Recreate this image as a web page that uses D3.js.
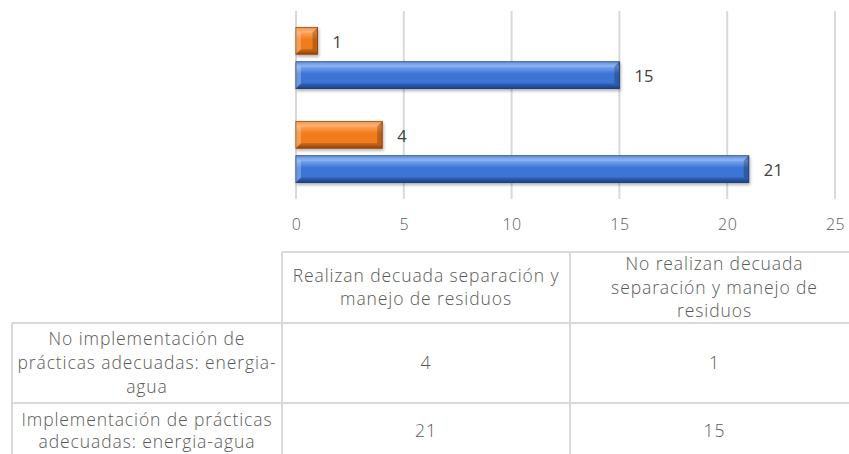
<!DOCTYPE html>
<html>
<head>
<meta charset="utf-8">
<script src="https://cdn.jsdelivr.net/npm/d3@7"></script>
<style>
  body { margin: 0; background: #fff; }
  text { font-family: "Open Sans", sans-serif; }
</style>
</head>
<body>
<svg id="chart" width="849" height="454"></svg>
<script>
// data
const categories = ["Realizan decuada separación y manejo de residuos",
                    "No realizan decuada separación y manejo de residuos"];
const categoryLines = [["Realizan decuada separación y", "manejo de residuos"],
                       ["No realizan decuada", "separación y manejo de", "residuos"]];
const seriesNames = ["No implementación de prácticas adecuadas: energia-agua",
                     "Implementación de prácticas adecuadas: energia-agua"];
const seriesLines = [["No implementación de", "prácticas adecuadas: energia-", "agua"],
                     ["Implementación de prácticas", "adecuadas: energia-agua"]];
const noImplementacion = [4, 1];
const implementacion = [21, 15];
const xTicks = [0, 5, 10, 15, 20, 25];

const palettes = [
  {top: "#fda35a", mid: "#f07b1c", bot: "#b85510", stroke: "#a84c0c"},
  {top: "#78a6ee", mid: "#3d74d6", bot: "#23509f", stroke: "#21478c"}
];

const svg = d3.select("#chart");

const defs = svg.append("defs");
defs.append("filter").attr("id", "shadow")
    .attr("x", "-10%").attr("y", "-30%").attr("width", "130%").attr("height", "180%")
  .append("feDropShadow")
    .attr("dx", 1).attr("dy", 2).attr("stdDeviation", 1.5)
    .attr("flood-color", "#000").attr("flood-opacity", 0.3);

palettes.forEach((p, i) => {
  const grad = defs.append("linearGradient").attr("id", "grad" + i)
    .attr("x1", 0).attr("y1", 0).attr("x2", 0).attr("y2", 1);
  grad.append("stop").attr("offset", "0%").attr("stop-color", p.mid);
  grad.append("stop").attr("offset", "18%").attr("stop-color", p.top);
  grad.append("stop").attr("offset", "45%").attr("stop-color", p.mid);
  grad.append("stop").attr("offset", "85%").attr("stop-color", p.mid);
  grad.append("stop").attr("offset", "100%").attr("stop-color", p.bot);
});

// scales
const x = d3.scaleLinear().domain([0, 25]).range([296, 835]);
const y = d3.scaleBand()
  .domain([categories[1], categories[0]])
  .range([11, 199])
  .paddingInner(0.35)
  .paddingOuter(0.175);
const ySeries = d3.scaleBand()
  .domain([0, 1])
  .range([0, y.bandwidth()])
  .paddingInner(0.22);

// gridlines
svg.append("g").selectAll("line")
  .data(xTicks)
  .join("line")
    .attr("x1", d => x(d)).attr("x2", d => x(d))
    .attr("y1", 11).attr("y2", 199)
    .attr("stroke", "#d9d9d9")
    .attr("stroke-width", 2);

// x axis labels
const axis = svg.append("g")
  .attr("transform", "translate(0,199)")
  .call(d3.axisBottom(x).tickValues(xTicks).tickSize(0).tickPadding(20));
axis.select(".domain").remove();
axis.selectAll("text")
  .style("font-family", '"Open Sans", sans-serif')
  .attr("font-size", 16)
  .attr("font-weight", 300)
  .attr("letter-spacing", 0.5)
  .attr("fill", "#595959");

// bars
const barData = [];
categories.forEach((c, ci) => {
  barData.push({cat: c, s: 0, v: noImplementacion[ci]});
  barData.push({cat: c, s: 1, v: implementacion[ci]});
});

const bars = svg.append("g").selectAll("g")
  .data(barData)
  .join("g");

bars.each(function(d) {
  const g = d3.select(this);
  const x0 = x(0), x1 = x(d.v);
  const y0 = y(d.cat) + ySeries(d.s), y1 = y0 + ySeries.bandwidth();
  const b = Math.min(5, (x1 - x0) / 3);
  const p = palettes[d.s];
  g.append("rect")
    .attr("x", x0).attr("y", y0)
    .attr("width", x1 - x0).attr("height", y1 - y0)
    .attr("fill", `url(#grad${d.s})`)
    .attr("stroke", p.stroke).attr("stroke-width", 1)
    .attr("filter", "url(#shadow)");
  // bevel edges
  const poly = (pts, fill, op) => g.append("polygon")
    .attr("points", pts.map(q => q.join(",")).join(" "))
    .attr("fill", fill).attr("opacity", op);
  poly([[x0, y0], [x0 + b, y0 + b], [x0 + b, y1 - b], [x0, y1]], "#fff", 0.25);
  poly([[x0, y0], [x1, y0], [x1 - b, y0 + b], [x0 + b, y0 + b]], "#fff", 0.2);
  poly([[x1, y0], [x1 - b, y0 + b], [x1 - b, y1 - b], [x1, y1]], "#000", 0.22);
  poly([[x0, y1], [x1, y1], [x1 - b, y1 - b], [x0 + b, y1 - b]], "#000", 0.2);
});

// value labels
bars.append("text")
  .attr("x", d => x(d.v) + 15)
  .attr("y", d => y(d.cat) + ySeries(d.s) + ySeries.bandwidth() / 2 + 1.5)
  .attr("dy", "0.35em")
  .attr("font-size", 16.5)
  .attr("letter-spacing", 0.3)
  .attr("fill", "#404040")
  .text(d => d.v);

// data table
const tableTop = 252, headerBottom = 323, row1Bottom = 403, tableBottom = 454;
const colX = [12, 282, 570, 849];
const gridColor = "#d9d9d9";
const table = svg.append("g");

const hline = (y0, xa, xb) => table.append("line")
  .attr("x1", xa).attr("x2", xb).attr("y1", y0).attr("y2", y0)
  .attr("stroke", gridColor).attr("stroke-width", 2);
const vline = (x0, ya, yb) => table.append("line")
  .attr("x1", x0).attr("x2", x0).attr("y1", ya).attr("y2", yb)
  .attr("stroke", gridColor).attr("stroke-width", 2);

hline(tableTop, colX[1], colX[3]);
hline(headerBottom, colX[0], colX[3]);
hline(row1Bottom, colX[0], colX[3]);
vline(colX[0], headerBottom, tableBottom);
vline(colX[1], tableTop, tableBottom);
vline(colX[2], tableTop, tableBottom);

const lineH = 23.5;
function multiLine(lines, cx, cy, lh) {
  const t = table.append("text")
    .attr("text-anchor", "middle")
    .attr("font-size", 17.5)
    .attr("font-weight", 300)
    .attr("letter-spacing", 0.9)
    .attr("fill", "#595959");
  lines.forEach((l, i) => {
    t.append("tspan")
      .attr("x", cx)
      .attr("y", cy + (i - (lines.length - 1) / 2) * lh)
      .attr("dy", "0.35em")
      .text(l);
  });
}

// header cells
categoryLines.forEach((lines, i) => {
  multiLine(lines, (colX[i + 1] + colX[i + 2]) / 2 + (i === 1 ? 5 : 0), (tableTop + headerBottom) / 2, lineH);
});

// row cells
const rowMid = [(headerBottom + row1Bottom) / 2, 431];
const rowValues = [noImplementacion, implementacion];
seriesLines.forEach((lines, r) => {
  multiLine(lines, (colX[0] + colX[1]) / 2, rowMid[r], r === 0 ? 24 : 22);
  rowValues[r].forEach((v, c) => {
    multiLine([String(v)], (colX[c + 1] + colX[c + 2]) / 2 + (c === 1 ? 5 : 0), rowMid[r], lineH);
  });
});
</script>
</body>
</html>
